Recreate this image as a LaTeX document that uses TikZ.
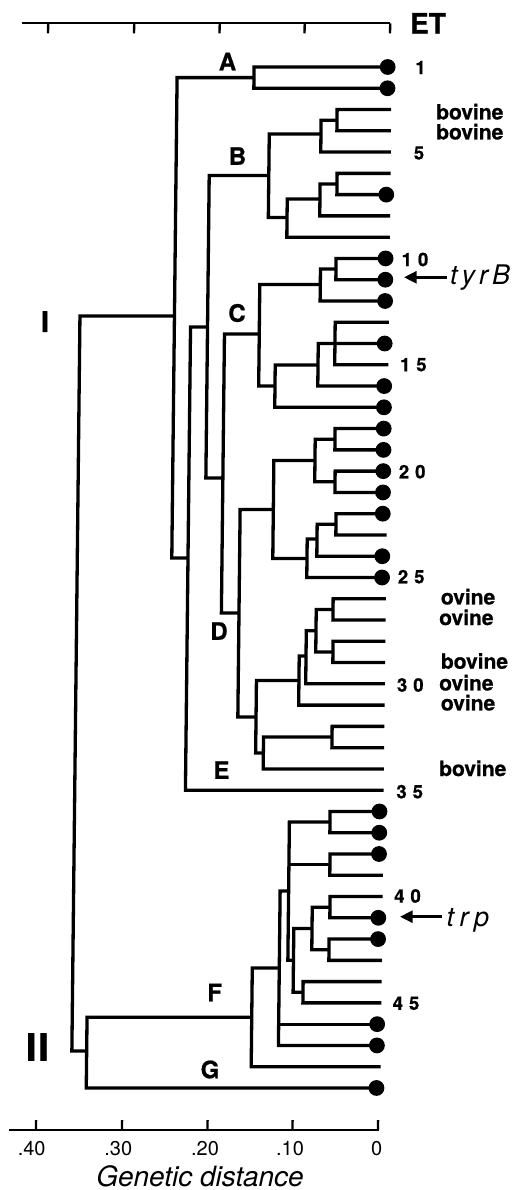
\documentclass[tikz,border=0pt]{standalone}
\usepackage{fontspec}
\setmainfont{TeX Gyre Heros}[BoldFeatures={FakeBold=0.8}]
\newfontfamily\heavy{TeX Gyre Heros}[BoldFeatures={FakeBold=2}]
\usetikzlibrary{arrows.meta}
\begin{document}
\begin{tikzpicture}[x=1bp,y=-1bp,
  br/.style={line width=3.3bp, line join=miter},
  ax/.style={line width=2.3bp},
  dot/.style={circle, fill=black, draw=none, inner sep=0pt, minimum size=15.8bp},
  lab/.style={font=\bfseries\fontsize{24bp}{24bp}\selectfont, inner sep=0pt},
  num/.style={font=\bfseries\fontsize{18.5bp}{18.5bp}\selectfont, inner sep=0pt},
  host/.style={font=\bfseries\fontsize{21bp}{21bp}\selectfont, inner sep=0pt, anchor=west},
  axl/.style={font=\fontsize{20bp}{20bp}\selectfont, inner sep=0pt},
  gene/.style={font=\itshape\fontsize{27bp}{27bp}\selectfont, inner sep=0pt, anchor=base west},
  arr/.style={line width=2.8bp, -{Triangle[length=12.7bp,width=12bp]}}]
\fill[white] (0,0) rectangle (522,1190);
\useasboundingbox (0,0) rectangle (522,1190);

\begin{scope}[xshift=12.43bp, xslant=0.011]
  % axes
  \draw[ax] (9.5,23.3) -- (378,23.3);
  \foreach \t in {36,122,207.5,292.5,378} \draw[ax] (\t,23.3) -- (\t,33.3);
  \draw[ax] (9.3,1130) -- (379.3,1130);
  \foreach \t in {36,122,207.5,292.5,378} \draw[ax] (\t,1130) -- (\t,1120);

  % leaves
  \foreach \i in {1,...,49} \coordinate (l\i) at (380,{67+(\i-1)*21.27});

  % internal nodes
  \coordinate (A) at (242.4,77.6);
  \coordinate (B1) at (325.9,120.2);
  \coordinate (B2) at (310,134);
  \coordinate (B3) at (326.6,184);
  \coordinate (B4) at (309.7,199);
  \coordinate (B5) at (277,217.5);
  \coordinate (B) at (258.3,175.5);
  \coordinate (C1) at (326.5,269);
  \coordinate (C2) at (311,284.5);
  \coordinate (C3) at (326.3,343.5);
  \coordinate (C4) at (309.6,365);
  \coordinate (C5) at (266.8,386);
  \coordinate (C) at (250.5,334);
  \coordinate (D1) at (327.4,439.2);
  \coordinate (D2) at (327.9,481.8);
  \coordinate (D3) at (307.6,460.5);
  \coordinate (D4) at (329.3,524.3);
  \coordinate (D5) at (310.5,539);
  \coordinate (D6) at (300.7,558.5);
  \coordinate (D0) at (266.5,509.5);
  \coordinate (E1) at (327.3,609.4);
  \coordinate (E2) at (327.7,652);
  \coordinate (E3) at (310.5,630.7);
  \coordinate (E4) at (300.8,656);
  \coordinate (E5) at (294,680.5);
  \coordinate (E6) at (327.7,737);
  \coordinate (E7) at (259.2,753);
  \coordinate (D) at (251.5,717);
  \coordinate (P4) at (233.3,613);
  \coordinate (P3) at (215.7,478);
  \coordinate (P1) at (198.7,327);
  \coordinate (P2) at (181.7,558);
  \coordinate (I) at (165.5,316);
  \coordinate (F3) at (326.6,822);
  \coordinate (F4) at (327,864.6);
  \coordinate (F7) at (327.5,907.2);
  \coordinate (F8) at (327,949.7);
  \coordinate (F6) at (309.8,928.4);
  \coordinate (F9) at (301.5,992.2);
  \coordinate (F5) at (291.6,960.3);
  \coordinate (F2) at (286,891);
  \coordinate (F1) at (277.5,968);
  \coordinate (F) at (250.5,1017.3);
  \coordinate (II) at (85.8,1051);
  \coordinate (root) at (71,700);

  % branches
  \draw[br] (l1) -| (A) |- (l2);
  \draw[br] (l3) -| (B1) |- (l4);
  \draw[br] (B1) -| (B2) |- (l5);
  \draw[br] (l6) -| (B3) |- (l7);
  \draw[br] (B3) -| (B4) |- (l8);
  \draw[br] (B4) -| (B5) |- (l9);
  \draw[br] (B2) -| (B) |- (B5);
  \draw[br] (l10) -| (C1) |- (l11);
  \draw[br] (C1) -| (C2) |- (l12);
  \draw[br] (l13) -| (C3) |- (l15);
  \draw[br] (C3) -- (l14);
  \draw[br] (C3) -| (C4) |- (l16);
  \draw[br] (C4) -| (C5) |- (l17);
  \draw[br] (C2) -| (C) |- (C5);
  \draw[br] (l18) -| (D1) |- (l19);
  \draw[br] (l20) -| (D2) |- (l21);
  \draw[br] (D1) -| (D3) |- (D2);
  \draw[br] (l22) -| (D4) |- (l23);
  \draw[br] (D4) -| (D5) |- (l24);
  \draw[br] (D5) -| (D6) |- (l25);
  \draw[br] (D3) -| (D0) |- (D6);
  \draw[br] (l26) -| (E1) |- (l27);
  \draw[br] (l28) -| (E2) |- (l29);
  \draw[br] (E1) -| (E3) |- (E2);
  \draw[br] (E3) -| (E4) |- (l30);
  \draw[br] (E4) -| (E5) |- (l31);
  \draw[br] (l32) -| (E6) |- (l33);
  \draw[br] (E6) -| (E7) |- (l34);
  \draw[br] (E5) -| (D) |- (E7);
  \draw[br] (D0) -| (P4) |- (D);
  \draw[br] (C) -| (P3) |- (P4);
  \draw[br] (B) -| (P1) |- (P3);
  \draw[br] (P1) -| (P2) |- (l35);
  \draw[br] (A) -| (I) |- (P2);
  \draw[br] (l36) -| (F3) |- (l37);
  \draw[br] (l38) -| (F4) |- (l39);
  \draw[br] (l40) -| (F7) |- (l41);
  \draw[br] (l42) -| (F8) |- (l43);
  \draw[br] (F7) -| (F6) |- (F8);
  \draw[br] (l44) -| (F9) |- (l45);
  \draw[br] (F6) -| (F5) |- (F9);
  \draw[br] (F3) -| (F2) |- (F5);
  \draw[br] (F4) -- (F2 |- F4);
  \draw[br] (F2) -| (F1) |- (l47);
  \draw[br] (l46) -- (F1 |- l46);
  \draw[br] (F1) -| (F) |- (l48);
  \draw[br] (F) -| (II) |- (l49);
  \draw[br] (I) -| (root) |- (II);

  % dots
  \foreach \i in {1,2,7,10,11,12,14,16,17,18,19,20,21,22,24,25,36,37,38,41,42,46,47,49}
    \node[dot] (d\i) at (376,{67+(\i-1)*21.27}) {};
\end{scope}

% clade labels
\node[lab] (labA) at (227.5,61.5) {A};
\node[lab] (labB) at (237.5,156) {B};
\node[lab] (labC) at (237,313) {C};
\node[lab] (labD) at (219,631) {D};
\node[lab] (labE) at (221.5,770) {E};
\node[lab] (labF) at (214.7,992.5) {F};
\node[lab] (labG) at (210,1069.5) {G};
\node[font=\heavy\bfseries\fontsize{28bp}{28bp}\selectfont, inner sep=0pt] (grI) at (45,321.7) {I};
\node[font=\heavy\bfseries\fontsize{37bp}{37bp}\selectfont, inner sep=0pt] (grII) at (37.5,1047) {I\kern2bp I};
\node[font=\bfseries\fontsize{28bp}{28bp}\selectfont, inner sep=0pt] (ET) at (428,23.3) {ET};

% ET numbers
\node[num] (n1) at (420.5,67.5) {1};
\node[num] (n5) at (419,153) {5};
\node[num] (n10) at (415,259.5) {1\kern6bp 0};
\node[num] (n15) at (413.3,364.7) {1\kern6bp 5};
\node[num] (n20) at (412.2,471.7) {2\kern6bp 0};
\node[num] (n25) at (411.2,576.7) {2\kern6bp 5};
\node[num] (n30) at (410.3,685) {3\kern6bp 0};
\node[num] (n35) at (409.7,791.7) {3\kern6bp 5};
\node[num] (n40) at (407.5,896) {4\kern6bp 0};
\node[num] (n45) at (406,1003.3) {4\kern6bp 5};

% hosts
\node[host] (h3) at (436,111.7) {bovine};
\node[host] (h4) at (436,131.7) {bovine};
\node[host] (h26) at (440.7,596.7) {ovine};
\node[host] (h27) at (439,617.3) {ovine};
\node[host] (h29) at (440.7,661) {bovine};
\node[host] (h30) at (439,682.7) {ovine};
\node[host] (h31) at (440.7,702.7) {ovine};
\node[host] (h34) at (439,768.3) {bovine};

% genes
\node[gene] (tyrB) at (450,284.3) {t\kern4bp y\kern4bp r\kern4bp B};
\coordinate (tyrtail) at (446.7,277.3);
\coordinate (tyrtip) at (404,277.3);
\draw[arr] (tyrtail) -- (tyrtip);
\node[gene] (trp) at (446.5,926.5) {t\kern5.5bp r\kern5.5bp p};
\coordinate (trptail) at (441.7,916.7);
\coordinate (trptip) at (400,916.7);
\draw[arr] (trptail) -- (trptip);

% axis labels
\node[axl] (x40) at (31.7,1149) {.40};
\node[axl] (x30) at (118.3,1149) {.30};
\node[axl] (x20) at (205,1149) {.20};
\node[axl] (x10) at (290,1149) {.10};
\node[axl] (x0) at (376.7,1149) {0};
\node[font=\itshape\fontsize{28bp}{28bp}\selectfont, inner sep=0pt] (gd) at (200,1176) {Genetic distance};
\end{tikzpicture}
\end{document}
